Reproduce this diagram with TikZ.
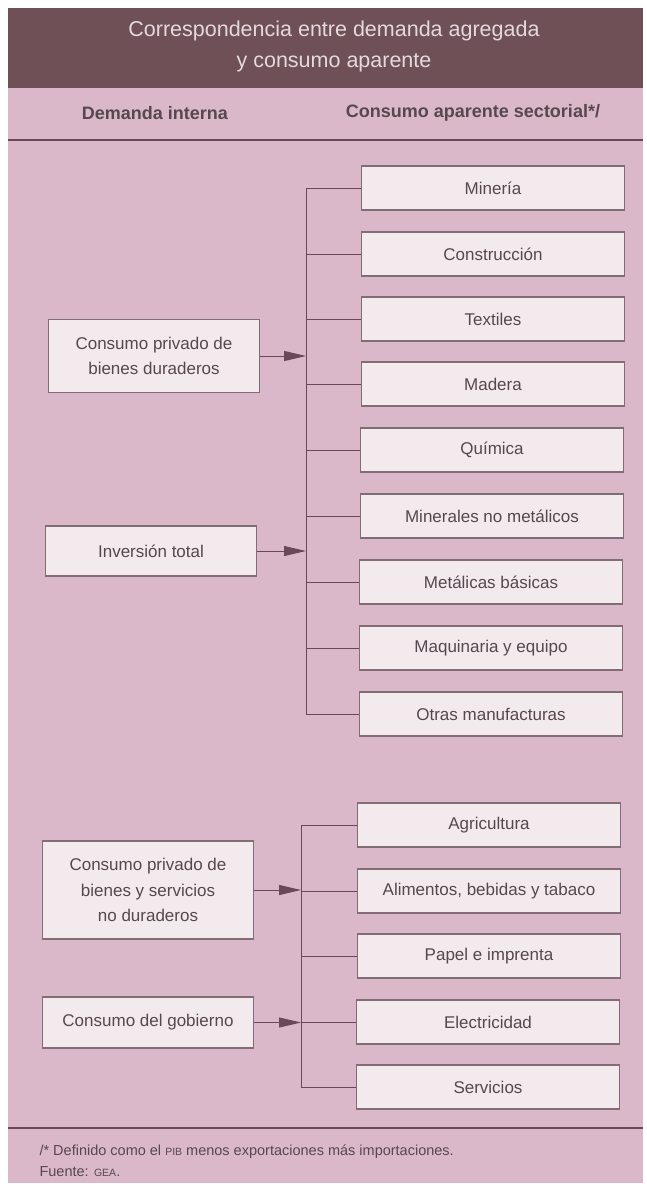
\documentclass[tikz,border=0pt]{standalone}
\usepackage{fontspec}
\setmainfont{Liberation Sans}
\usetikzlibrary{arrows.meta}
\definecolor{bgpink}{RGB}{218,184,201}
\definecolor{bandc}{RGB}{110,80,86}
\definecolor{titletxt}{RGB}{228,218,222}
\definecolor{boxfill}{RGB}{243,234,238}
\definecolor{boxdraw}{RGB}{130,108,118}
\definecolor{linec}{RGB}{105,72,88}
\definecolor{txtc}{RGB}{85,72,78}
\tikzset{
  rbox/.style={draw=boxdraw, line width=1.2pt, fill=boxfill, minimum width=263pt, minimum height=44pt, inner sep=0pt, text=txtc, font=\fontsize{17}{20}\selectfont},
  lbox/.style={draw=boxdraw, line width=1.2pt, fill=boxfill, minimum width=211pt, inner sep=0pt, text=txtc, align=center, font=\fontsize{17}{25.5}\selectfont},
  conn/.style={draw=linec, line width=1pt},
  arr/.style={draw=linec, line width=1pt, -{Triangle[length=22pt,width=10pt,fill=linec]}},
  hdr/.style={text=txtc, font=\bfseries\fontsize{18}{21}\selectfont},
}
\begin{document}
\begin{tikzpicture}[x=1pt,y=-1pt]
\useasboundingbox (0,0) rectangle (646,1189);
\fill[white] (0,0) rectangle (646,1189);
\fill[bgpink] (8,8) rectangle (643,1183);
\fill[bandc] (8,8) rectangle (643,88);
\node[text=titletxt, align=center, font=\fontsize{21.5}{31}\selectfont] (title) at (334,46) {Correspondencia entre demanda agregada\\y consumo aparente};
\node[hdr] (h1) at (155,113) {Demanda interna};
\node[hdr] (h2) at (473,113) {Consumo aparente sectorial*/};
\draw[draw=linec, line width=1.3pt] (8,140) -- (643,140);
% group 1 right boxes
\node[rbox] (r1) at (493,188) {Minería};
\node[rbox] (r2) at (493,254) {Construcción};
\node[rbox] (r3) at (493,319) {Textiles};
\node[rbox] (r4) at (493,384) {Madera};
\node[rbox] (r5) at (492,450) {Química};
\node[rbox] (r6) at (492,516) {Minerales no metálicos};
\node[rbox] (r7) at (491,582) {Metálicas básicas};
\node[rbox] (r8) at (491,648) {Maquinaria y equipo};
\node[rbox] (r9) at (491,714) {Otras manufacturas};
\coordinate (v1t) at (306,188);
\coordinate (v1b) at (306,714);
\draw[conn] (v1t) -- (v1b);
\foreach \n in {1,...,9}{\draw[conn] (r\n.west) -- (v1t |- r\n.west);}
\node[lbox, minimum height=73pt] (l1) at (154,356) {Consumo privado de\\bienes duraderos};
\node[lbox, minimum height=50pt] (l2) at (151,551) {Inversión total};
\draw[arr] (l1.east) -- (v1t |- l1.east);
\draw[arr] (l2.east) -- (v1t |- l2.east);
% group 2
\node[rbox] (s1) at (489,825) {Agricultura};
\node[rbox] (s2) at (489,891) {Alimentos, bebidas y tabaco};
\node[rbox] (s3) at (489,956) {Papel e imprenta};
\node[rbox] (s4) at (488,1022) {Electricidad};
\node[rbox] (s5) at (488,1087) {Servicios};
\coordinate (v2t) at (301,825);
\coordinate (v2b) at (301,1087);
\draw[conn] (v2t) -- (v2b);
\foreach \n in {1,...,5}{\draw[conn] (s\n.west) -- (v2t |- s\n.west);}
\node[lbox, minimum height=98pt] (l3) at (148,890) {Consumo privado de\\bienes y servicios\\no duraderos};
\node[lbox, minimum height=51pt] (l4) at (148,1022.5) {Consumo del gobierno};
\draw[arr] (l3.east) -- (v2t |- l3.east);
\draw[arr] (l4.east) -- (v2t |- l4.east);
% footer
\draw[draw=linec, line width=1.3pt] (8,1128) -- (643,1128);
\node[anchor=west, text=txtc, font=\fontsize{14.5}{17}\selectfont] (f1) at (36,1152) {/* Definido como el {\fontsize{10.5}{12}\selectfont PIB} menos exportaciones más importaciones.};
\node[anchor=west, text=txtc, font=\fontsize{14.5}{17}\selectfont] (f2) at (36,1172) {Fuente: {\fontsize{10.5}{12}\selectfont GEA}.};
\end{tikzpicture}
\end{document}
